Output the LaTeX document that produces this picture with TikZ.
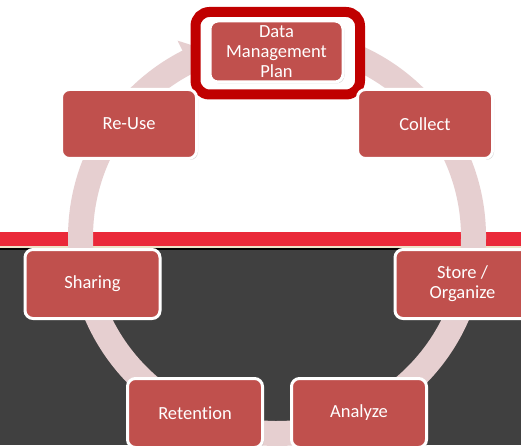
\documentclass[tikz,border=0pt]{standalone}
\usepackage{fontspec}
\setmainfont[Ligatures=NoCommon]{Carlito}
\usetikzlibrary{arrows.meta,bending,shadows}

\definecolor{boxred}{RGB}{192,80,77}
\definecolor{ringpink}{RGB}{230,207,208}
\definecolor{bandred}{RGB}{234,41,57}
\definecolor{bandcream}{RGB}{236,226,200}
\definecolor{slate}{RGB}{64,64,64}
\definecolor{framered}{RGB}{192,0,0}

\begin{document}
\begin{tikzpicture}[x=1pt,y=1pt,
  stage/.style={draw=white, line width=3pt, fill=boxred, rounded corners=8pt,
    minimum width=135pt, minimum height=69pt, inner sep=2pt,
    text=white, align=center, font=\fontsize{18.5}{20}\selectfont,
    drop shadow={shadow xshift=1.5pt, shadow yshift=-1.5pt, opacity=0.3}},
  cyclering/.style={draw=ringpink, line width=25pt}]

\useasboundingbox (0,0) rectangle (521,445);
\clip (0,0) rectangle (521,445);

% background
\fill[white] (0,213) rectangle (521,445);
\fill[bandred] (0,199) rectangle (521,213);
\fill[bandcream] (0,197) rectangle (521,199);
\fill[black] (0,195) rectangle (521,197);
\fill[slate] (0,0) rectangle (521,195);

% ring
\coordinate (O) at (277,208);
\draw[cyclering, -{Triangle[width=46pt,length=24pt,bend]}]
  ([shift={(85:196.5)}]O) arc[start angle=85, end angle=-250, radius=196.5];

% highlight round the plan
\draw[framered, line width=10pt, fill=white, rounded corners=14pt]
  (195.5,433) rectangle (360,350.5);

\node[stage, minimum width=133pt, minimum height=61pt] (dmp) at (276.5,393.5) {Data\\Management\\Plan};
\node[stage] (collect) at (425,321) {Collect};
\node[stage] (store) at (462.5,161) {Store /\\Organize};
\node[stage] (analyze) at (359,32) {Analyze};
\node[stage] (retention) at (195,32) {Retention};
\node[stage] (sharing) at (92.5,161) {Sharing};
\node[stage] (reuse) at (129,321) {Re-Use};

\end{tikzpicture}
\end{document}
